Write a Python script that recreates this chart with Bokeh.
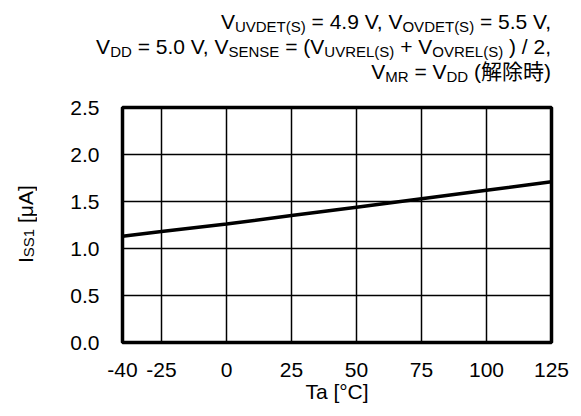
from bokeh.plotting import figure
from bokeh.models import Range1d, FixedTicker, NumeralTickFormatter, Div
from bokeh.layouts import column, row
from bokeh.embed import file_html
from bokeh.resources import INLINE

# ---- data ----
ta = [-40, -25, 0, 25, 50, 75, 100, 125]
iss1 = [1.13, 1.18, 1.26, 1.35, 1.44, 1.53, 1.62, 1.71]
x_ticks = [-40, -25, 0, 25, 50, 75, 100, 125]
x_tick_labels = ["-40", "-25", "0", "25", "50", "75", "100", "125"]
y_ticks = [0.0, 0.5, 1.0, 1.5, 2.0, 2.5]
x_title = "Ta [°C]"
# (text, is_subscript)
cond_line1 = [("V", 0), ("UVDET(S)", 1), (" = 4.9 V, V", 0), ("OVDET(S)", 1), (" = 5.5 V,", 0)]
cond_line2 = [("V", 0), ("DD", 1), (" = 5.0 V, V", 0), ("SENSE", 1), (" = (V", 0),
              ("UVREL(S)", 1), (" + V", 0), ("OVREL(S)", 1), (" ) / 2,", 0)]
cond_line3 = [("V", 0), ("MR", 1), (" = V", 0), ("DD", 1), (" (解除時)", 0)]
y_title = [("I", 0), ("SS1", 1), (" [μA]", 0)]

# ---- layout ----
W, H = 573, 408
TOP_H = 90          # height of the condition text block
YL_W = 60           # width of the y-title block
FL, FT, FW, FH = 122, 107, 429, 235   # frame position on the page
XMIN, XMAX, YMIN, YMAX = -40, 125, 0.0, 2.5
MAIN, SUB = 21, 15
FONT = "Liberation Sans"

PW, PH = W - YL_W, H - TOP_H
p = figure(width=PW, height=PH, x_range=Range1d(XMIN, XMAX), y_range=Range1d(YMIN, YMAX),
           output_backend="svg", toolbar_location=None,
           min_border_left=FL - YL_W, min_border_right=PW - (FL - YL_W) - FW,
           min_border_top=FT - TOP_H, min_border_bottom=PH - (FT - TOP_H) - FH)
p.background_fill_color = "white"
p.border_fill_color = "white"
p.outline_line_color = "black"
p.outline_line_width = 3.5

for ax in (p.xaxis[0], p.yaxis[0]):
    ax.axis_line_color = None
    ax.major_tick_line_color = None
    ax.minor_tick_line_color = None
    ax.major_tick_out = 0
    ax.major_tick_in = 0
    ax.major_label_text_font = FONT
    ax.major_label_text_font_size = f"{MAIN}px"
    ax.major_label_text_color = "black"
    ax.axis_label_text_font = FONT
    ax.axis_label_text_font_size = f"{MAIN}px"
    ax.axis_label_text_font_style = "normal"
    ax.axis_label_text_color = "black"

p.xaxis.ticker = FixedTicker(ticks=x_ticks)
p.xaxis.major_label_overrides = {t: s for t, s in zip(x_ticks, x_tick_labels)}
p.yaxis.ticker = FixedTicker(ticks=y_ticks)
p.yaxis.formatter = NumeralTickFormatter(format="0.0")
p.xaxis.major_label_standoff = 20
p.yaxis.major_label_standoff = 23
p.xaxis.axis_label = x_title
p.xaxis.axis_label_standoff = 0

for g in (p.xgrid[0], p.ygrid[0]):
    g.grid_line_color = "black"
    g.grid_line_width = 1.5
    g.grid_line_alpha = 1.0
p.xgrid.ticker = FixedTicker(ticks=x_ticks)
p.ygrid.ticker = FixedTicker(ticks=y_ticks)

p.line(ta, iss1, line_width=3.5, line_color="black")


def html_segs(segs):
    out = []
    for t, k in segs:
        if k:
            out.append(f'<span style="font-size:{SUB}px;vertical-align:-3px;line-height:0">{t}</span>')
        else:
            out.append(t)
    return "".join(out)


title_html = (
    f'<div style="font-family:\'{FONT}\',Arial,\'Noto Sans CJK JP\',sans-serif;'
    f'font-size:{MAIN}px;line-height:25px;text-align:right;color:#000;white-space:pre;'
    f'padding:9px 22px 0 0;margin:0;width:{W - 22}px;box-sizing:content-box">'
    + "<br>".join(html_segs(s) for s in (cond_line1, cond_line2, cond_line3))
    + "</div>"
)
title_div = Div(text=title_html, width=W, height=TOP_H, margin=0)

ylab_html = (
    f'<div style="position:relative;width:{YL_W}px;height:{PH}px;margin:0;padding:0">'
    f'<div style="position:absolute;left:13px;top:{FT - TOP_H}px;width:26px;height:{FH}px;'
    f'writing-mode:vertical-rl;transform:rotate(180deg);text-align:center;line-height:26px;'
    f'font-family:\'{FONT}\',Arial,sans-serif;font-size:{MAIN}px;color:#000;white-space:pre">'
    + html_segs(y_title) + "</div></div>"
)
ylab_div = Div(text=ylab_html, width=YL_W, height=PH, margin=0)

layout = column(title_div, row(ylab_div, p, spacing=0), spacing=0)

open("out.html", "w").write(file_html(layout, INLINE))
